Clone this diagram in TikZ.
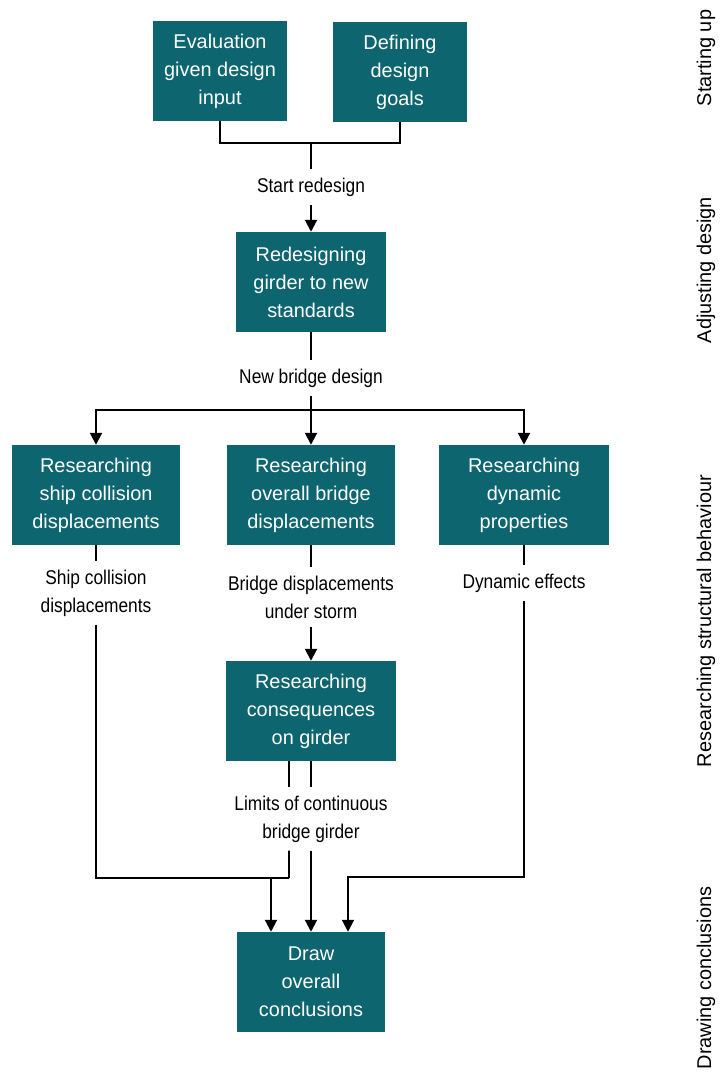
\documentclass[tikz,border=0pt]{standalone}
\usepackage{fontspec}
\setmainfont{Liberation Sans}
\newfontfamily\narrowlbl[FakeStretch=0.87]{Liberation Sans}
\usetikzlibrary{arrows.meta,positioning}
\definecolor{teal}{HTML}{0D6570}

\begin{document}
\begin{tikzpicture}[x=0.03cm,y=-0.03cm,
  box/.style={fill=teal,text=white,minimum height=3cm,align=center,inner sep=2pt,
              font=\fontsize{17}{23.9}\selectfont},
  lbl/.style={align=center,inner xsep=0pt,inner ysep=7pt,
              font=\narrowlbl\fontsize{17}{23.9}\selectfont},
  side/.style={rotate=90,font=\fontsize{17}{20}\selectfont},
  ln/.style={draw=black,line width=1.7pt},
  arr/.style={ln,-{Triangle[length=3.6mm,width=3.6mm]}}]

\useasboundingbox (0,0) rectangle (725,1079);

\node[box,minimum width=4.02cm](ev) at (220,71){Evaluation\\given design\\input};
\node[box,minimum width=4.02cm](df) at (400,72){Defining\\design\\goals};
\node[box,minimum width=4.5cm](rd) at (311,282){Redesigning\\girder to new\\standards};
\node[box,minimum width=5.04cm](r1) at (96,495){Researching\\ship collision\\displacements};
\node[box,minimum width=5.04cm](r2) at (311,495){Researching\\overall bridge\\displacements};
\node[box,minimum width=5.07cm](r3) at (524,495){Researching\\dynamic\\properties};
\node[box,minimum width=5.1cm](con) at (311,711){Researching\\consequences\\on girder};
\node[box,minimum width=4.44cm](dc) at (311,982){Draw\\overall\\conclusions};

\node[lbl](l0) at (311,187){Start redesign};
\node[lbl](l00) at (311,378){New bridge design};
\node[lbl](l1) at (96,593){Ship collision\\displacements};
\node[lbl](l2) at (311,597){Bridge displacements\\under storm};
\node[lbl](l3) at (524,583){Dynamic effects};
\node[lbl](l4) at (311,819){Limits of continuous\\bridge girder};

\node[side](s1) at (706,58){Starting up};
\node[side](s2) at (706,270){Adjusting design};
\node[side](s3) at (706,621){Researching structural behaviour};
\node[side](s4) at (706,978){Drawing conclusions};

\coordinate (j0) at (311,143);
\coordinate (j1) at (311,410);
\coordinate (jl) at (289,878);
\coordinate (ja) at (271,878);
\coordinate (jr) at (348,877);

% starting up
\draw[ln](ev.south) |- (j0) -| (df.south);
\draw[ln](j0)--(l0.north); \draw[arr](l0.south)--(rd.north);
% adjusting design
\draw[ln](rd.south)--(l00.north);
\draw[arr](l00.south)--(r2.north);
\draw[arr](j1) -| (r1.north); \draw[arr](j1) -| (r3.north);
% research
\draw[ln](r1.south)--(l1.north); \draw[ln](r2.south)--(l2.north);
\draw[ln](r3.south)--(l3.north);
\draw[arr](l2.south)--(con.north);
\draw[ln]([xshift=-0.66cm]con.south)--([xshift=-0.66cm]l4.north);
\draw[ln](con.south)--(l4.north);
% conclusions
\draw[ln](l1.south) |- (jl);
\draw[ln]([xshift=-0.66cm]l4.south)--(jl);
\draw[arr](ja)--(ja |- dc.north);
\draw[arr](l4.south -| dc.north)--(dc.north);
\draw[arr](l3.south) |- (jr)--(jr |- dc.north);
\end{tikzpicture}
\end{document}
